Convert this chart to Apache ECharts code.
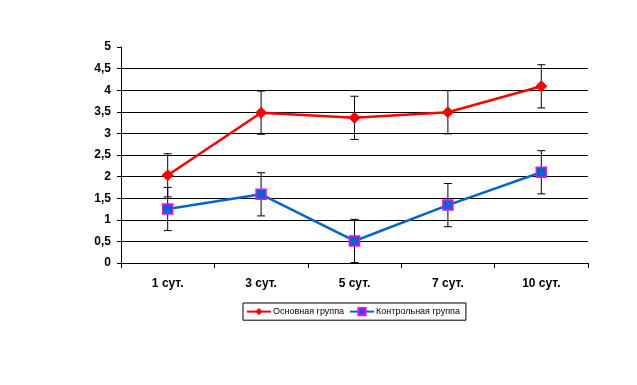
<!DOCTYPE html>
<html><head><meta charset="utf-8">
<script src="https://cdn.jsdelivr.net/npm/echarts@6/dist/echarts.min.js"></script>
<style>html,body{margin:0;padding:0;background:#fff}#c{width:637px;height:385px}</style>
</head><body><div id="c"></div>
<script>
const categories = ['1 сут.', '3 сут.', '5 сут.', '7 сут.', '10 сут.'];
const mainGroup = [2.03, 3.48, 3.36, 3.49, 4.09];
const controlGroup = [1.25, 1.59, 0.51, 1.34, 2.1];
const mainErr = [0.5, 0.5, 0.5, 0.5, 0.5];
const controlErr = [0.5, 0.5, 0.5, 0.5, 0.5];
const seriesNames = ['Основная группа', 'Контрольная группа'];

function errData(vals, errs) {
  return vals.map((v, i) => [i, Math.max(0, v - errs[i]), v + errs[i]]);
}
function renderErr(params, api) {
  const x = api.value(0);
  const lo = api.coord([x, api.value(1)]);
  const hi = api.coord([x, api.value(2)]);
  const w = 4;
  const st = { stroke: '#000', lineWidth: 1 };
  return { type: 'group', children: [
    { type: 'line', shape: { x1: lo[0], y1: lo[1], x2: hi[0], y2: hi[1] }, style: st },
    { type: 'line', shape: { x1: hi[0] - w, y1: hi[1], x2: hi[0] + w, y2: hi[1] }, style: st },
    { type: 'line', shape: { x1: lo[0] - w, y1: lo[1], x2: lo[0] + w, y2: lo[1] }, style: st }
  ]};
}
const chart = echarts.init(document.getElementById('c'), null, { renderer: 'canvas' });
chart.setOption({
  animation: false,
  backgroundColor: '#fff',
  grid: { left: 121, right: 49, top: 47, bottom: 122 },
  legend: {
    left: 243, top: 303,
    itemWidth: 24, itemHeight: 9, itemGap: 5,
    padding: [4, 6, 4, 3],
    borderColor: '#000', borderWidth: 1,
    textStyle: { fontFamily: 'Liberation Sans, Arial', fontSize: 9, color: '#000', padding: [0, 0, 0, -3] },
    data: seriesNames
  },
  xAxis: {
    type: 'category', data: categories, boundaryGap: true,
    axisLine: { lineStyle: { color: '#000', width: 1 } },
    axisTick: { show: true, length: 5, lineStyle: { color: '#000' } },
    axisLabel: { color: '#000', fontFamily: 'Liberation Sans, Arial', fontWeight: 'bold', fontSize: 12, margin: 15 },
    splitLine: { show: false }
  },
  yAxis: {
    type: 'value', min: 0, max: 5, interval: 0.5,
    axisLine: { show: true, lineStyle: { color: '#000', width: 1 } },
    axisTick: { show: true, length: 4, lineStyle: { color: '#000' } },
    axisLabel: { color: '#000', fontFamily: 'Liberation Sans, Arial', fontWeight: 'bold', fontSize: 12, margin: 10,
      formatter: v => String(v).replace('.', ',') },
    splitLine: { show: true, lineStyle: { color: '#000', width: 1 },
      showMinLine: false, showMaxLine: false }
  },
  series: [
    { type: 'custom', renderItem: renderErr, data: errData(mainGroup, mainErr), z: 1, silent: true },
    { type: 'custom', renderItem: renderErr, data: errData(controlGroup, controlErr), z: 1, silent: true },
    { name: seriesNames[0], type: 'line', data: mainGroup, z: 3,
      symbol: 'diamond', symbolSize: 12,
      lineStyle: { color: '#ff0000', width: 2.5 },
      itemStyle: { color: '#ff0000', borderWidth: 0 } },
    { name: seriesNames[1], type: 'line', data: controlGroup, z: 3,
      symbol: 'rect', symbolSize: 10,
      lineStyle: { color: '#0066cc', width: 2.5 },
      itemStyle: { color: '#0066cc', borderColor: '#ff00ff', borderWidth: 1.5 } }
  ]
});
</script></body></html>
